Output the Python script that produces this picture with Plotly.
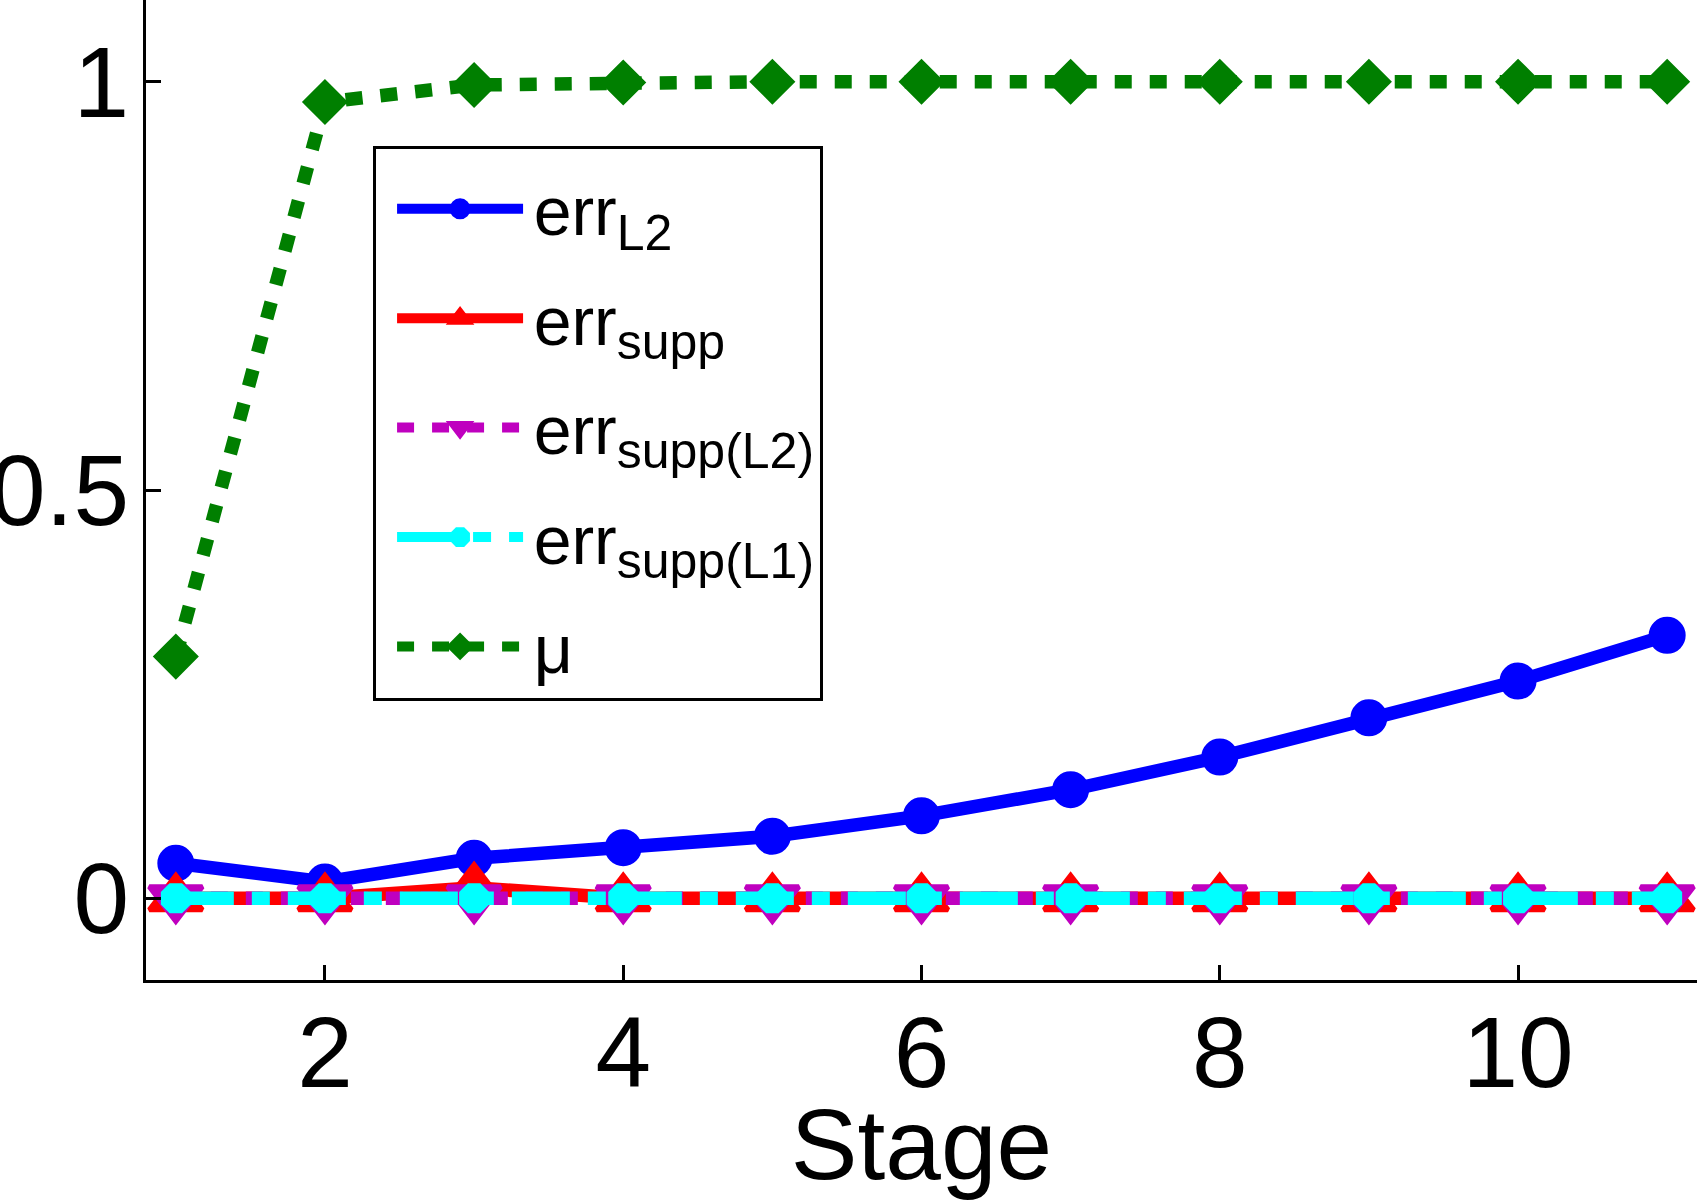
import plotly.graph_objects as go

# Data
stage = [1, 2, 3, 4, 5, 6, 7, 8, 9, 10, 11]
err_l2 = [0.043, 0.020, 0.049, 0.062, 0.076, 0.101, 0.133, 0.173, 0.221, 0.266, 0.322]
err_supp = [0, 0, 0.013, 0, 0, 0, 0, 0, 0, 0, 0]
err_supp_l2 = [0, 0, 0, 0, 0, 0, 0, 0, 0, 0, 0]
err_supp_l1 = [0, 0, 0, 0, 0, 0, 0, 0, 0, 0, 0]
mu = [0.296, 0.975, 0.996, 0.999, 1.0, 1.0, 1.0, 1.0, 1.0, 1.0, 1.0]

x_ticks = [2, 4, 6, 8, 10]
y_ticks = [0, 0.5, 1]
y_ticktext = ["0", "0.5", "1"]

FONT = "Liberation Sans, Helvetica, Arial, sans-serif"
LW = 13.5
GAP = "<span style='font-size:20px'> </span>"  # small gap between sample and label


def sub(base, low):
    # subscript a bit larger than plotly's default 70%
    return GAP + base + "<sub><span style='font-size:50px'>" + low + "</span></sub>"


fig = go.Figure()

# (name, values, colour, dash, symbol, marker size)
series = [
    (sub("err", "L2"), err_l2, "#0000ff", "solid", "circle", 32),
    (sub("err", "supp"), err_supp, "#ff0000", "solid", "triangle-up", 46),
    (sub("err", "supp(L2)"), err_supp_l2, "#bf00bf", "17px,18px", "triangle-down", 46),
    (sub("err", "supp(L1)"), err_supp_l1, "#00ffff", "58px,18px,18px,18px", "octagon", 27),
    (GAP + "μ", mu, "#007f00", "17px,18px", "diamond", 30),
]

for i, (name, vals, col, dash, sym, ms) in enumerate(series):
    fig.add_trace(go.Scatter(
        x=stage,
        y=vals,
        mode="lines+markers",
        name=name,
        legendgroup=str(i),
        line=dict(color=col, width=LW, dash=dash),
        marker=dict(symbol=sym, size=ms, color=col, line=dict(color=col, width=5)),
    ))

fig.update_layout(
    width=1697,
    height=1200,
    margin=dict(l=146, r=0, t=0, b=220),
    paper_bgcolor="white",
    plot_bgcolor="white",
    font=dict(family=FONT, color="black"),
    showlegend=True,
    legend=dict(
        x=0.1464, y=0.851, xanchor="left", yanchor="top",
        bgcolor="white", bordercolor="black", borderwidth=3,
        font=dict(size=68, family=FONT, color="black"),
        itemwidth=126,
        indentation=16,
        tracegroupgap=18,
        title=dict(text=" ", font=dict(size=7)),
    ),
    xaxis=dict(
        range=[0.8, 11.2],
        tickvals=x_ticks,
        ticks="inside", ticklen=15, tickwidth=3, tickcolor="black",
        showline=True, linewidth=3, linecolor="black",
        showgrid=False, zeroline=False, automargin=False,
        tickfont=dict(size=100, family=FONT),
        ticklabelstandoff=-16,
        title=dict(text="Stage", font=dict(size=100, family=FONT), standoff=0),
    ),
    yaxis=dict(
        range=[-0.1, 1.1],
        tickvals=y_ticks,
        ticktext=y_ticktext,
        ticks="inside", ticklen=15, tickwidth=3, tickcolor="black",
        showline=True, linewidth=3, linecolor="black",
        showgrid=False, zeroline=False, automargin=False,
        tickfont=dict(size=100, family=FONT),
        ticklabelstandoff=-6,
    ),
)

# drop the page's default body margin so the figure sits at the top-left corner
fig.write_html(
    "out.html",
    config={"displayModeBar": False},
    post_script="document.body.style.margin='0';",
)
